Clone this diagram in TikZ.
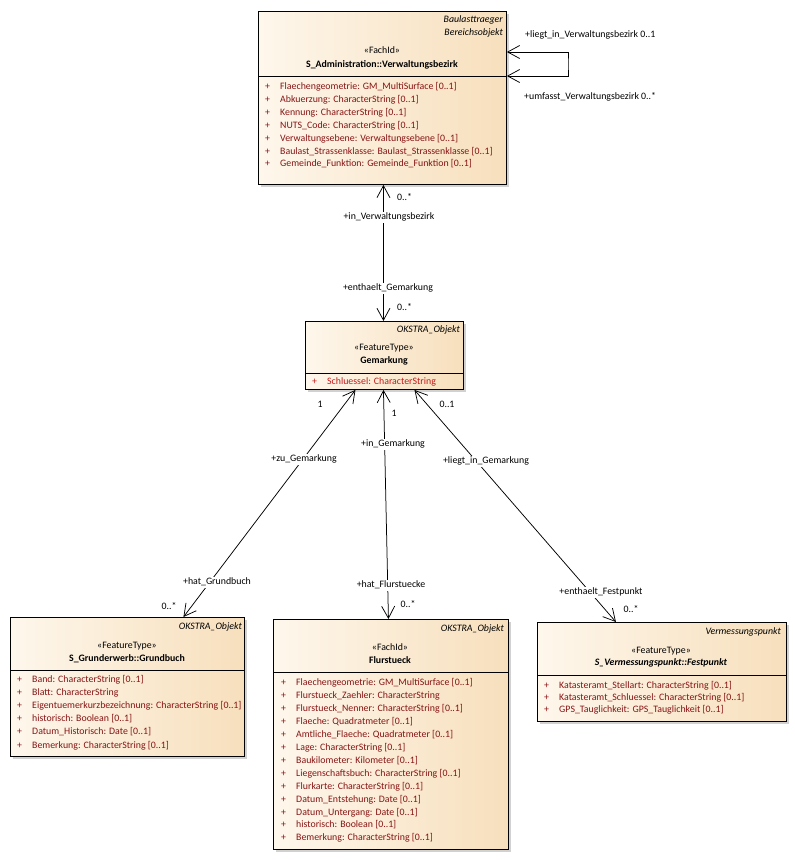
\documentclass[tikz,border=0pt]{standalone}
\usepackage{fontspec}
\setmainfont{Carlito}
\usetikzlibrary{arrows.meta,shadows}
\definecolor{boxleft}{RGB}{254,247,236}
\definecolor{boxright}{RGB}{247,223,188}
\definecolor{attrred}{RGB}{135,20,20}
\definecolor{keyred}{RGB}{195,25,25}
\newcommand\umlsize{\fontsize{9.85pt}{12pt}\selectfont}
\tikzstyle{classbox} = [rectangle, draw, line width=0.9pt, left color=boxleft, right color=boxright,
    anchor=north west, inner sep=0pt, drop shadow={shadow xshift=3pt, shadow yshift=-3pt, fill=black!18, opacity=1}]
\tikzstyle{txt} = [inner sep=0pt, text height=7pt, text depth=2pt, font=\umlsize]
\tikzstyle{parent} = [txt, anchor=east, font=\umlsize\itshape]
\tikzstyle{cname} = [txt, font=\umlsize\bfseries]
\tikzstyle{attr} = [txt, anchor=west, text=attrred]
\tikzstyle{role} = [txt, fill=white, inner xsep=1pt, inner ysep=1pt]
\tikzstyle{divider} = [draw, line width=0.9pt]
\tikzstyle{assoc} = [draw, line width=0.75pt, {Straight Barb[length=12pt,width=13pt]}-{Straight Barb[length=12pt,width=13pt]}]

\begin{document}
\begin{tikzpicture}[x=1pt, y=-1pt]
		\path[fill=white] (0,0) rectangle (795,860);
		\useasboundingbox (0,0) rectangle (795,860);

		% classes
		\node [classbox, minimum width=248pt, minimum height=173pt] (verw) at (258,11) {};
		\node [classbox, minimum width=158pt, minimum height=68pt] (gem) at (305,321) {};
		\node [classbox, minimum width=234pt, minimum height=139pt] (grund) at (10,617) {};
		\node [classbox, minimum width=235pt, minimum height=230pt] (flur) at (273,619) {};
		\node [classbox, minimum width=249pt, minimum height=99pt] (fest) at (537,622) {};

		\path [divider] (verw.west |- 0,76) -- (verw.east |- 0,76);
		\path [divider] (gem.west |- 0,373) -- (gem.east |- 0,373);
		\path [divider] (grund.west |- 0,670) -- (grund.east |- 0,670);
		\path [divider] (flur.west |- 0,672) -- (flur.east |- 0,672);
		\path [divider] (fest.west |- 0,675) -- (fest.east |- 0,675);

		% headers
		\node [parent] (verw-p1) at (503,20) {Baulasttraeger};
		\node [parent] (verw-p2) at (503,33) {Bereichsobjekt};
		\node [txt] (verw-st) at (382,51) {«FachId»};
		\node [cname] (verw-n) at (382,65) {S\_Administration::Verwaltungsbezirk};

		\node [parent] (gem-p) at (460,330) {OKSTRA\_Objekt};
		\node [txt] (gem-st) at (384,348) {«FeatureType»};
		\node [cname] (gem-n) at (384,361) {Gemarkung};

		\node [parent] (grund-p) at (242,627) {OKSTRA\_Objekt};
		\node [txt] (grund-st) at (127,646) {«FeatureType»};
		\node [cname] (grund-n) at (127,659) {S\_Grunderwerb::Grundbuch};

		\node [parent] (flur-p) at (504,629) {OKSTRA\_Objekt};
		\node [txt] (flur-st) at (390,648) {«FachId»};
		\node [cname] (flur-n) at (390,661) {Flurstueck};

		\node [parent] (fest-p) at (781,632) {Vermessungspunkt};
		\node [txt] (fest-st) at (661,651) {«FeatureType»};
		\node [cname, font=\umlsize\bfseries\itshape] (fest-n) at (661,663) {S\_Vermessungspunkt::Festpunkt};

		% attributes
		\foreach \a [count=\i from 0] in {{Flaechengeometrie: GM\_MultiSurface [0..1]}, {Abkuerzung: CharacterString [0..1]},
			{Kennung: CharacterString [0..1]}, {NUTS\_Code: CharacterString [0..1]}, {Verwaltungsebene: Verwaltungsebene [0..1]},
			{Baulast\_Strassenklasse: Baulast\_Strassenklasse [0..1]}, {Gemeinde\_Funktion: Gemeinde\_Funktion [0..1]}}
		{
			\node [attr] (verw-x\i) at ({265},{87+12.9*\i}) {+};
			\node [attr] (verw-a\i) at ({280},{87+12.9*\i}) {\a};
		}
		\node [attr, text=keyred] (gem-x0) at (312,382) {+};
		\node [attr, text=keyred] (gem-a0) at (327,382) {Schluessel: CharacterString};
		\foreach \a [count=\i from 0] in {{Band: CharacterString [0..1]}, {Blatt: CharacterString},
			{Eigentuemerkurzbezeichnung: CharacterString [0..1]}, {historisch: Boolean [0..1]},
			{Datum\_Historisch: Date [0..1]}, {Bemerkung: CharacterString [0..1]}}
		{
			\node [attr] (grund-x\i) at ({17},{680+13.1*\i}) {+};
			\node [attr] (grund-a\i) at ({32},{680+13.1*\i}) {\a};
		}
		\foreach \a [count=\i from 0] in {{Flaechengeometrie: GM\_MultiSurface [0..1]}, {Flurstueck\_Zaehler: CharacterString},
			{Flurstueck\_Nenner: CharacterString [0..1]}, {Flaeche: Quadratmeter [0..1]}, {Amtliche\_Flaeche: Quadratmeter [0..1]},
			{Lage: CharacterString [0..1]}, {Baukilometer: Kilometer [0..1]}, {Liegenschaftsbuch: CharacterString [0..1]},
			{Flurkarte: CharacterString [0..1]}, {Datum\_Entstehung: Date [0..1]}, {Datum\_Untergang: Date [0..1]},
			{historisch: Boolean [0..1]}, {Bemerkung: CharacterString [0..1]}}
		{
			\node [attr] (flur-x\i) at ({281},{683+12.95*\i}) {+};
			\node [attr] (flur-a\i) at ({296},{683+12.95*\i}) {\a};
		}
		\foreach \a [count=\i from 0] in {{Katasteramt\_Stellart: CharacterString [0..1]},
			{Katasteramt\_Schluessel: CharacterString [0..1]}, {GPS\_Tauglichkeit: GPS\_Tauglichkeit [0..1]}}
		{
			\node [attr] (fest-x\i) at ({544},{686+12.2*\i}) {+};
			\node [attr] (fest-a\i) at ({559},{686+12.2*\i}) {\a};
		}

		% associations
		\path [assoc] (verw.east |- 0,52) -| (568,64) |- (verw.east |- 0,76);
		\path [assoc] ([xshift=1pt]verw.south) -- ([xshift=1pt]verw.south |- gem.north);
		\path [assoc] ([xshift=-29pt]gem.south) -- ([xshift=56pt]grund.north);
		\path [assoc] ([xshift=-1pt]gem.south) -- ([xshift=-2.5pt]flur.north);
		\path [assoc] ([xshift=30pt]gem.south) -- ([xshift=-46pt]fest.north);

		% role names
		\node [txt, anchor=west] (r-liegtvb) at (525,35) {+liegt\_in\_Verwaltungsbezirk 0..1};
		\node [txt, anchor=west] (r-umfvb) at (524,97) {+umfasst\_Verwaltungsbezirk 0..*};
		\node [txt, anchor=west] (m-invb) at (397,198) {0..*};
		\node [role] (r-invb) at (389,217) {+in\_Verwaltungsbezirk};
		\node [role] (r-enthgem) at (388,288) {+enthaelt\_Gemarkung};
		\node [txt, anchor=west] (m-enthgem) at (397,308) {0..*};
		\node [txt] (m-zugem) at (320,405) {1};
		\node [txt] (m-ingem) at (394,414) {1};
		\node [txt] (m-liegtgem) at (447,405) {0..1};
		\node [role] (r-zugem) at (304,459) {+zu\_Gemarkung};
		\node [role] (r-ingem) at (393,444) {+in\_Gemarkung};
		\node [role] (r-liegtgem) at (486,461) {+liegt\_in\_Gemarkung};
		\node [role] (r-hatgb) at (217,582) {+hat\_Grundbuch};
		\node [txt] (m-hatgb) at (169,607) {0..*};
		\node [role] (r-hatfl) at (391,585) {+hat\_Flurstuecke};
		\node [txt] (m-hatfl) at (408,605) {0..*};
		\node [role] (r-enthfp) at (601,592) {+enthaelt\_Festpunkt};
		\node [txt] (m-enthfp) at (631,610) {0..*};
	\end{tikzpicture}
\end{document}
